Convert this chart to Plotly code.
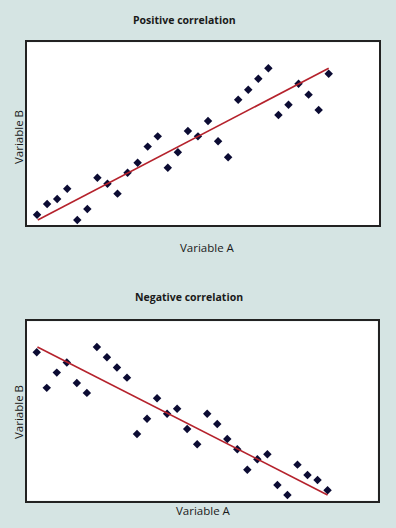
import plotly.graph_objects as go

# ---- data ----
pos_x = list(range(1, 31))
pos_y = [5.8, 11.6, 14.4, 20.0, 2.9, 8.9, 26.0, 22.7, 17.3, 28.7,
         34.2, 43.0, 48.6, 31.5, 39.9, 51.5, 48.6, 57.0, 45.9, 37.2,
         68.6, 74.1, 80.1, 85.8, 60.3, 65.9, 77.4, 71.4, 63.0, 82.8]
pos_trend_x = [1.07, 30.0]
pos_trend_y = [2.9, 85.8]

neg_x = list(range(1, 31))
neg_y = [82.8, 62.9, 71.4, 77.0, 65.6, 60.1, 85.7, 80.0, 74.2, 68.6,
         37.2, 45.7, 57.1, 48.5, 51.3, 40.0, 31.5, 48.5, 42.8, 34.4,
         28.7, 17.3, 23.1, 25.9, 8.8, 3.2, 20.1, 14.3, 11.5, 5.8]
neg_trend_x = [1.07, 30.0]
neg_trend_y = [85.7, 3.2]

titles = ["Positive correlation", "Negative correlation"]
x_label = "Variable A"
y_label = "Variable B"

# ---- styles ----
BG = "#d5e4e3"
MARK = "#0b0b33"
LINE = "#b5222c"
BORDER = "#222222"
FONT = "Open Sans"
W, H = 396, 528

fig = go.Figure()

marker = dict(symbol="diamond", size=6.5, color=MARK)

fig.add_trace(go.Scatter(x=pos_x, y=pos_y, mode="markers", marker=marker,
                         xaxis="x", yaxis="y", showlegend=False))
fig.add_trace(go.Scatter(x=pos_trend_x, y=pos_trend_y, mode="lines",
                         line=dict(color=LINE, width=1.6),
                         xaxis="x", yaxis="y", showlegend=False))
fig.add_trace(go.Scatter(x=neg_x, y=neg_y, mode="markers", marker=marker,
                         xaxis="x2", yaxis="y2", showlegend=False))
fig.add_trace(go.Scatter(x=neg_trend_x, y=neg_trend_y, mode="lines",
                         line=dict(color=LINE, width=1.6),
                         xaxis="x2", yaxis="y2", showlegend=False))

def px_x(p):
    return p / W

def px_y(p):
    return 1 - p / H

ax_common = dict(showline=True, mirror=True, linecolor=BORDER, linewidth=2,
                 showgrid=False, zeroline=False, showticklabels=False,
                 ticks="", fixedrange=True)

fig.update_layout(
    width=W, height=H,
    margin=dict(l=0, r=0, t=0, b=0),
    paper_bgcolor=BG, plot_bgcolor="white",
    xaxis=dict(domain=[px_x(27), px_x(379)], range=[0, 35], anchor="y", **ax_common),
    yaxis=dict(domain=[px_y(225.3), px_y(42.3)], range=[0, 100], anchor="x", **ax_common),
    xaxis2=dict(domain=[px_x(26.7), px_x(377.7)], range=[0, 35], anchor="y2", **ax_common),
    yaxis2=dict(domain=[px_y(500.7), px_y(321.3)], range=[0, 100], anchor="x2", **ax_common),
    font=dict(family=FONT, color="#1a1a1a"),
)

ann = []
def add_text(text, x, y, size, bold=False, angle=0):
    ann.append(dict(text=f"<b>{text}</b>" if bold else text,
                    x=px_x(x), y=px_y(y), xref="paper", yref="paper",
                    xanchor="center", yanchor="middle", showarrow=False,
                    textangle=angle, font=dict(size=size, family=FONT, color="#1a1a1a")))

add_text(titles[0], 184, 20, 10.5, bold=True)
add_text(x_label, 207, 247, 11.5)
add_text(y_label, 18, 137, 11.5, angle=-90)
add_text(titles[1], 188.7, 297.3, 10.5, bold=True)
add_text(x_label, 203, 510.7, 11.5)
add_text(y_label, 18, 412, 11.5, angle=-90)

fig.update_layout(annotations=ann)

fig.write_html("out.html", config={"displayModeBar": False},
               post_script="document.body.style.margin='0';document.body.style.overflow='hidden';")
